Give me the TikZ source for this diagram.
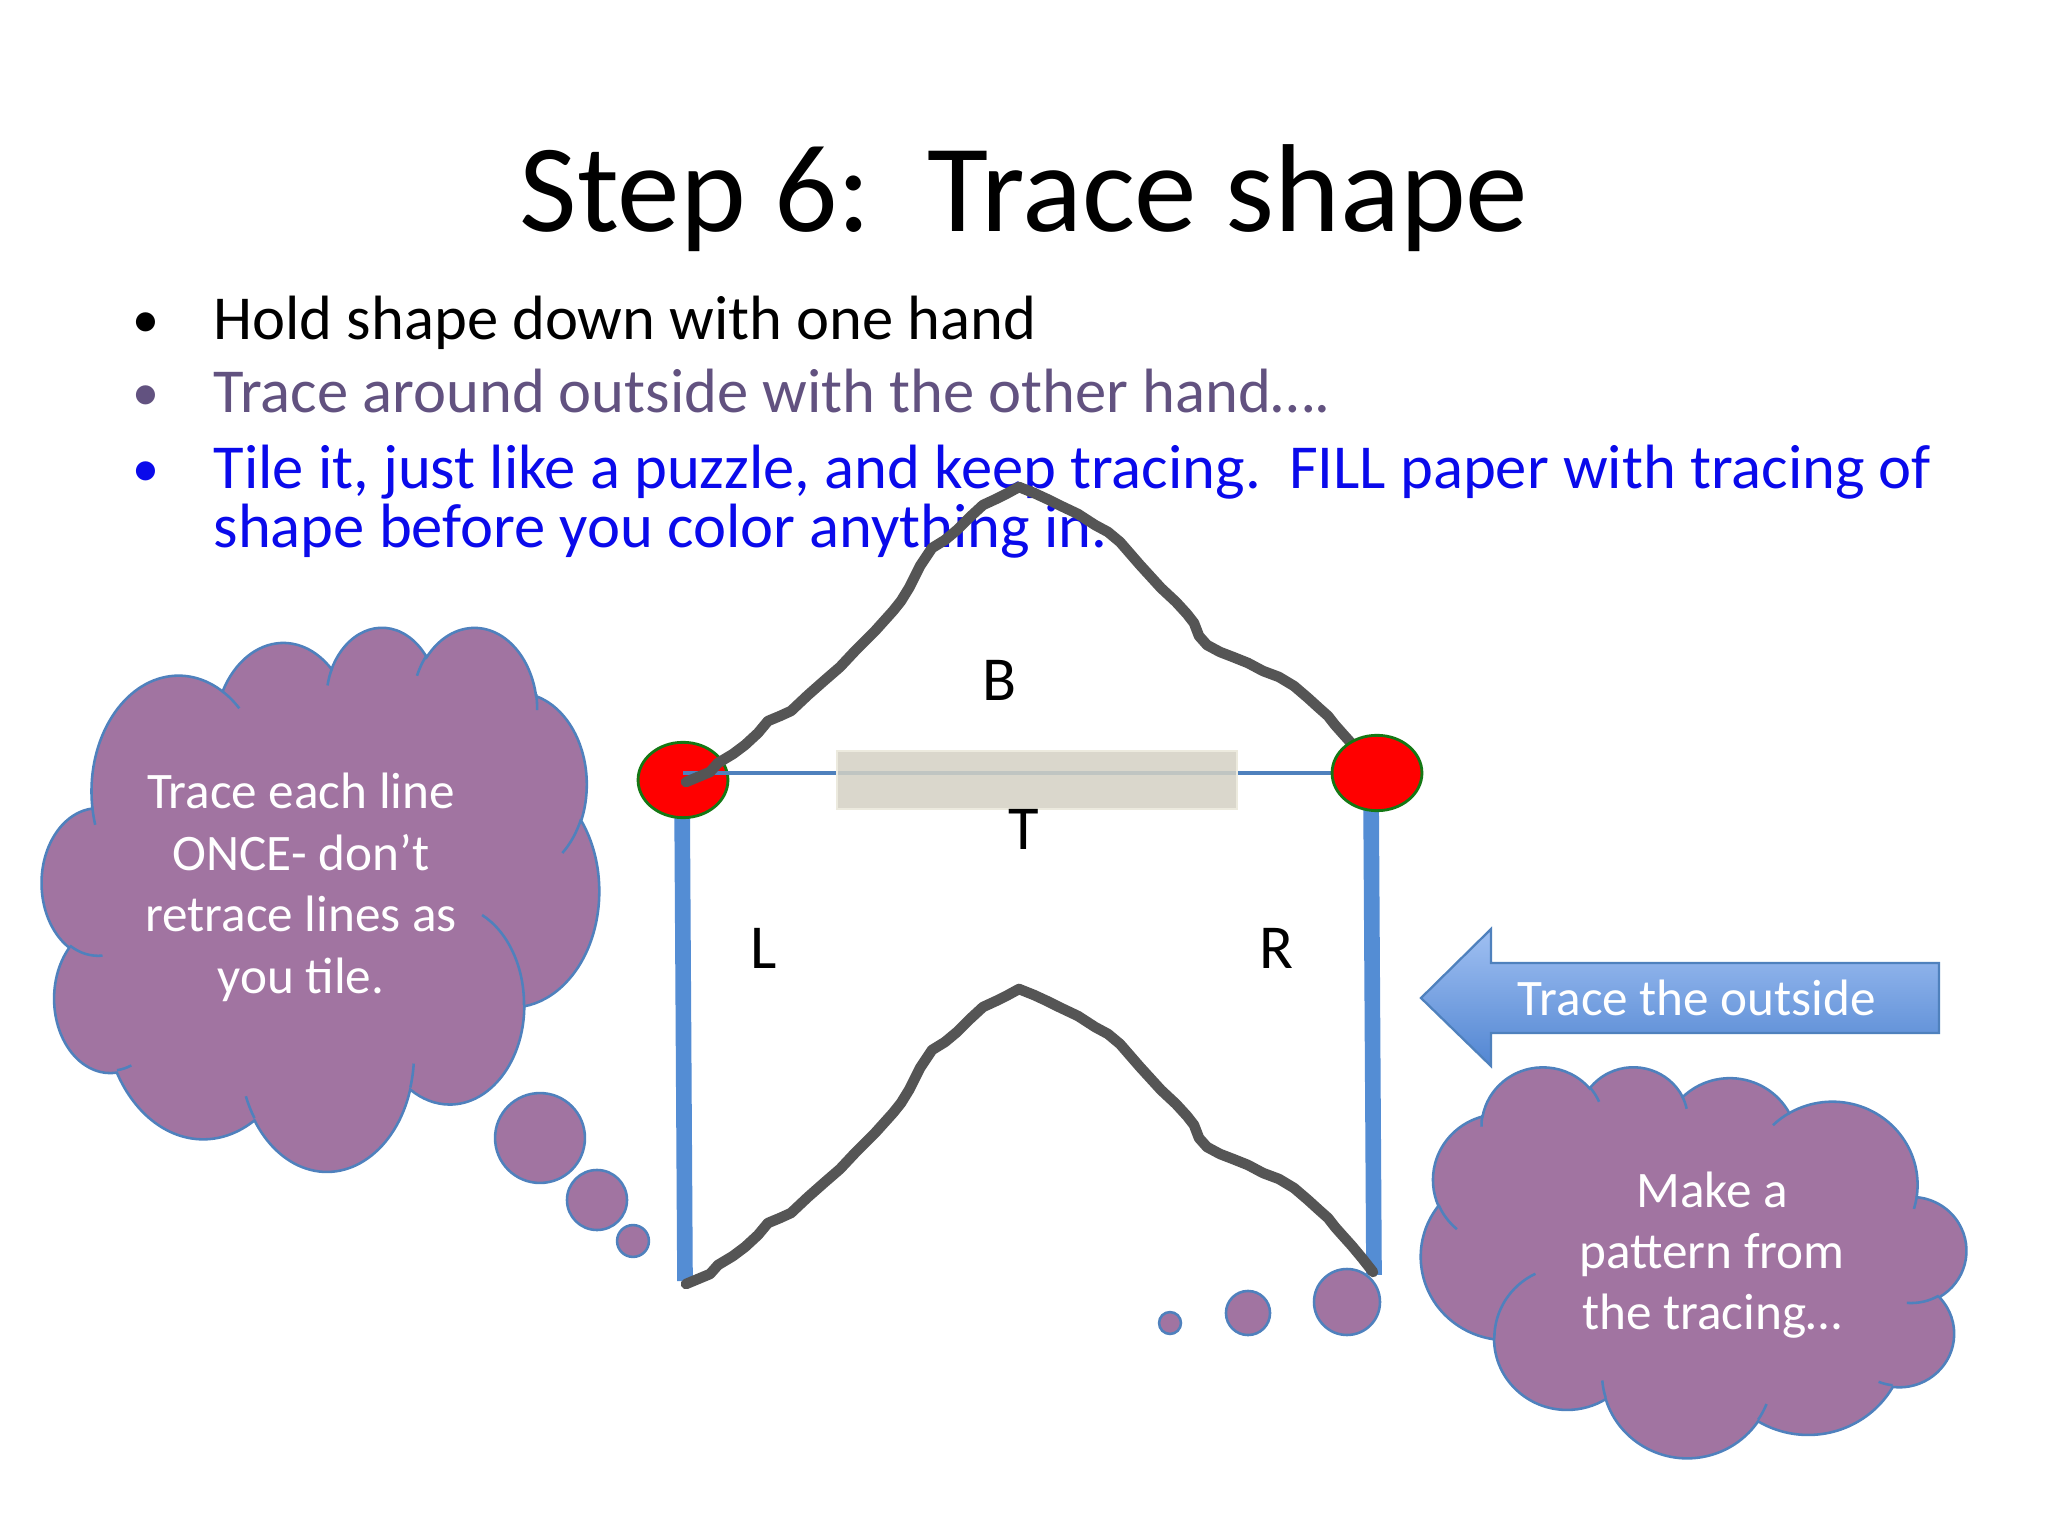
\documentclass[tikz,border=0pt]{standalone}
\usepackage{fontspec}
\setmainfont{Carlito}
\usetikzlibrary{shapes.geometric}
\frenchspacing
\definecolor{cloudfill}{RGB}{161,116,161}
\definecolor{cloudline}{RGB}{79,129,189}
\definecolor{barblue}{RGB}{84,141,212}
\definecolor{thinblue}{RGB}{79,129,189}
\definecolor{curvegray}{RGB}{85,85,85}
\definecolor{rulerfill}{RGB}{212,209,196}
\definecolor{rulerline}{RGB}{236,234,222}
\definecolor{dotgreen}{RGB}{20,120,20}
\definecolor{bullettwo}{RGB}{98,82,128}
\definecolor{bulletthree}{RGB}{10,10,235}
\definecolor{arrowtop}{RGB}{160,192,242}
\definecolor{arrowbot}{RGB}{82,134,210}

% OOXML-style arcTo (visual angles) converted to TikZ parametric arc
\newcommand\ooarc[4]{arc[x radius=#1, y radius=#2, start angle={atan2(#1*sin(#3),#2*cos(#3))}, end angle={atan2(#1*sin(#3),#2*cos(#3))+mod(atan2(#1*sin(#3+#4),#2*cos(#3+#4))-atan2(#1*sin(#3),#2*cos(#3))+720,360)}]}

\newcommand\pptcloud[4]{%
\begin{scope}[shift={(#1,#2)}, x=#3pt, y=-#4pt]
  \path[cloudbody] (390,1437)
    \ooarc{675.3}{919.0}{-190.48748}{123.78053}
    \ooarc{533.3}{726.7}{-144.10238}{89.94523}
    \ooarc{436.5}{594.5}{-145.80792}{99.72302}
    \ooarc{485.7}{659.5}{-130.98607}{117.24173}
    \ooarc{533.3}{727.3}{-78.70888}{109.02692}
    \ooarc{677.5}{922.0}{-46.26725}{130.269}
    \ooarc{578.5}{786.7}{0.62502}{114.03333}
    \ooarc{675.2}{921.5}{22.4516}{115.17255}
    \ooarc{772.0}{1054.3}{66.24263}{75.71102}
    \ooarc{436.0}{591.8}{-274.94208}{146.73557}
    \ooarc{434.5}{594.5}{-246.8285}{152.51885}
    -- cycle;
  \draw[cloudcrease]
    (469.3,2617.7) \ooarc{434.5}{594.5}{86.742}{26.4295}
    (692.8,3489.9) \ooarc{436.0}{591.8}{73.61047}{11.44747}
    (1647.8,3909.0) \ooarc{675.2}{921.5}{137.62415}{14.0811}
    (2882.7,3475.1) \ooarc{675.2}{921.5}{6.45327}{15.99835}
    (3412.9,2295.4) \ooarc{578.5}{786.7}{-70.29235}{70.91737}
    (4179.8,1535.4) \ooarc{533.3}{727.3}{30.31803}{27.7515}
    (3832.4,542.6) \ooarc{485.7}{659.5}{-13.74433}{14.8589}
    (2907.8,395.2) \ooarc{485.7}{659.5}{-149.18145}{18.19537}
    (2214.1,472.0) \ooarc{436.5}{594.5}{-163.49427}{17.68635}
    (1400.0,519.2) \ooarc{675.3}{919.0}{-66.70695}{12.31935}
    (412.7,1578.9) \ooarc{675.3}{919.0}{157.65435}{11.85817};
\end{scope}}

\newcommand\tracecurve{(686,782) -- (710,772) -- (718,763) -- (733,754) -- (745,745) -- (758,733) -- (768,721) -- (780,716) -- (791,711) -- (808,695) -- (825,680) -- (840,667) -- (855,651) -- (875,631) -- (893,611) -- (901,601) -- (909,588) -- (920,566) -- (932,548) -- (945,540) -- (957,530) -- (970,517) -- (983,505) -- (996,499) -- (1008,493) -- (1019,487) -- (1034,493) -- (1047,499) -- (1059,505) -- (1078,514) -- (1095,525) -- (1108,532) -- (1120,542) -- (1140,565) -- (1161,588) -- (1176,602) -- (1187,614) -- (1194,623) -- (1199,636) -- (1207,645) -- (1220,652) -- (1233,657) -- (1248,663) -- (1263,671) -- (1279,677) -- (1294,686) -- (1308,698) -- (1319,708) -- (1328,716) -- (1335,725) -- (1343,734) -- (1352,744) -- (1362,756) -- (1373,770)}

\begin{document}
\begin{tikzpicture}[x=0.3515625pt, y=-0.3515625pt,
  cloudbody/.style={fill=cloudfill, draw=cloudline, line width=0.9pt},
  cloudcrease/.style={draw=cloudline, line width=0.9pt},
  bubble/.style={circle, fill=cloudfill, draw=cloudline, line width=0.9pt, inner sep=0pt},
  cloudtext/.style={text=white, font=\fontsize{18}{21.6}\selectfont, anchor=base},
  bar/.style={draw=barblue, line width=5.5pt},
  thinline/.style={draw=thinblue, line width=1.7pt},
  reddot/.style={ellipse, fill=red, draw=dotgreen, line width=1pt, inner sep=0pt, minimum width=31.6pt, minimum height=26.5pt},
  ruler/.style={rectangle, fill=rulerfill, fill opacity=0.85, draw=rulerline, line width=0.7pt, inner sep=0pt, minimum width=140.6pt, minimum height=20.4pt},
  tracing/.style={draw=curvegray, line width=3.7pt, line join=round, line cap=round},
  label/.style={font=\fontsize{22}{26}\selectfont, anchor=base},
  bullettext/.style={font=\fontsize{22}{26}\selectfont, anchor=base west, inner sep=0pt},
  bulletdot/.style={font=\fontsize{19}{23}\selectfont, anchor=base},
  arrowbody/.style={draw=thinblue, line width=0.8pt, top color=arrowtop, bottom color=arrowbot}
]
\useasboundingbox[fill=white] (0,0) rectangle (2048,1536);

% Title
\node[anchor=base, font=\fontsize{44}{53}\selectfont] (title) at (1024,232) {Step 6:~~Trace shape};

% Bullets
\node[bulletdot] (d1) at (146,338) {•};
\node[bullettext] (b1) at (213,340) {Hold shape down with one hand};
\node[bulletdot, text=bullettwo] (d2) at (146,411) {•};
\node[bullettext, text=bullettwo] (b2) at (213,413) {Trace around outside with the other hand….};
\node[bulletdot, text=bulletthree] (d3) at (146,487) {•};
\node[bullettext, text=bulletthree] (b3) at (213,489) {Tile it, just like a puzzle, and keep tracing.~~FILL paper with tracing of};
\node[bullettext, text=bulletthree] (b3b) at (213,548) {shape before you color anything in.};

% Left cloud
\pptcloud{42}{626}{0.045330}{0.044272}
\node[cloudtext] (lt1) at (301,808) {Trace each line};
\node[cloudtext] (lt2) at (301,870) {ONCE- don’t};
\node[cloudtext] (lt3) at (301,931) {retrace lines as};
\node[cloudtext] (lt4) at (301,993) {you tile.};
\node[bubble, minimum size=31.6pt] (lb1) at (540,1138) {};
\node[bubble, minimum size=21.1pt] (lb2) at (597,1200) {};
\node[bubble, minimum size=11.2pt] (lb3) at (633,1241) {};

% Right cloud (mirrored)
\pptcloud{1966}{1066}{-0.044352}{0.031819}
\node[cloudtext] (rt1) at (1712,1207) {Make a};
\node[cloudtext] (rt2) at (1712,1268) {pattern from};
\node[cloudtext] (rt3) at (1712,1329) {the tracing…};
\node[bubble, minimum size=7.7pt] (rb1) at (1170,1323) {};
\node[bubble, minimum size=15.5pt] (rb2) at (1248,1313) {};
\node[bubble, minimum size=23.2pt] (rb3) at (1347,1302) {};

% Shape
\coordinate (lbbot) at (685,1281);
\coordinate (rbbot) at (1374,1275);
\coordinate (lbtop) at (682,790);
\coordinate (rbtop) at (1371,790);
\coordinate (lpc) at (683,773);
\coordinate (rpc) at (1377,773);
\draw[bar] (lbtop) -- (lbbot);
\draw[bar] (rbtop) -- (rbbot);
\node[reddot] (lp) at (683,780) {};
\draw[thinline] (lpc) -- (rpc);
\node[ruler] (ruler) at (1037,780) {};
\draw[tracing] \tracecurve;
\draw[tracing, shift={(0,502)}] \tracecurve;
\node[reddot] (rp) at (rpc) {};

\node[label] (lB) at (1000,700) {B};
\node[label] (lT) at (1024,849) {T};
\node[label] (lL) at (764,968) {L};
\node[label] (lR) at (1276,968) {R};

% Arrow
\path[arrowbody] (1421,998) -- (1491,929) -- (1491,963) -- (1939,963) -- (1939,1033) -- (1491,1033) -- (1491,1066) -- cycle;
\node[anchor=base, text=white, font=\fontsize{18}{21.6}\selectfont] (arrowtext) at (1697,1015) {Trace the outside};
\end{tikzpicture}
\end{document}
